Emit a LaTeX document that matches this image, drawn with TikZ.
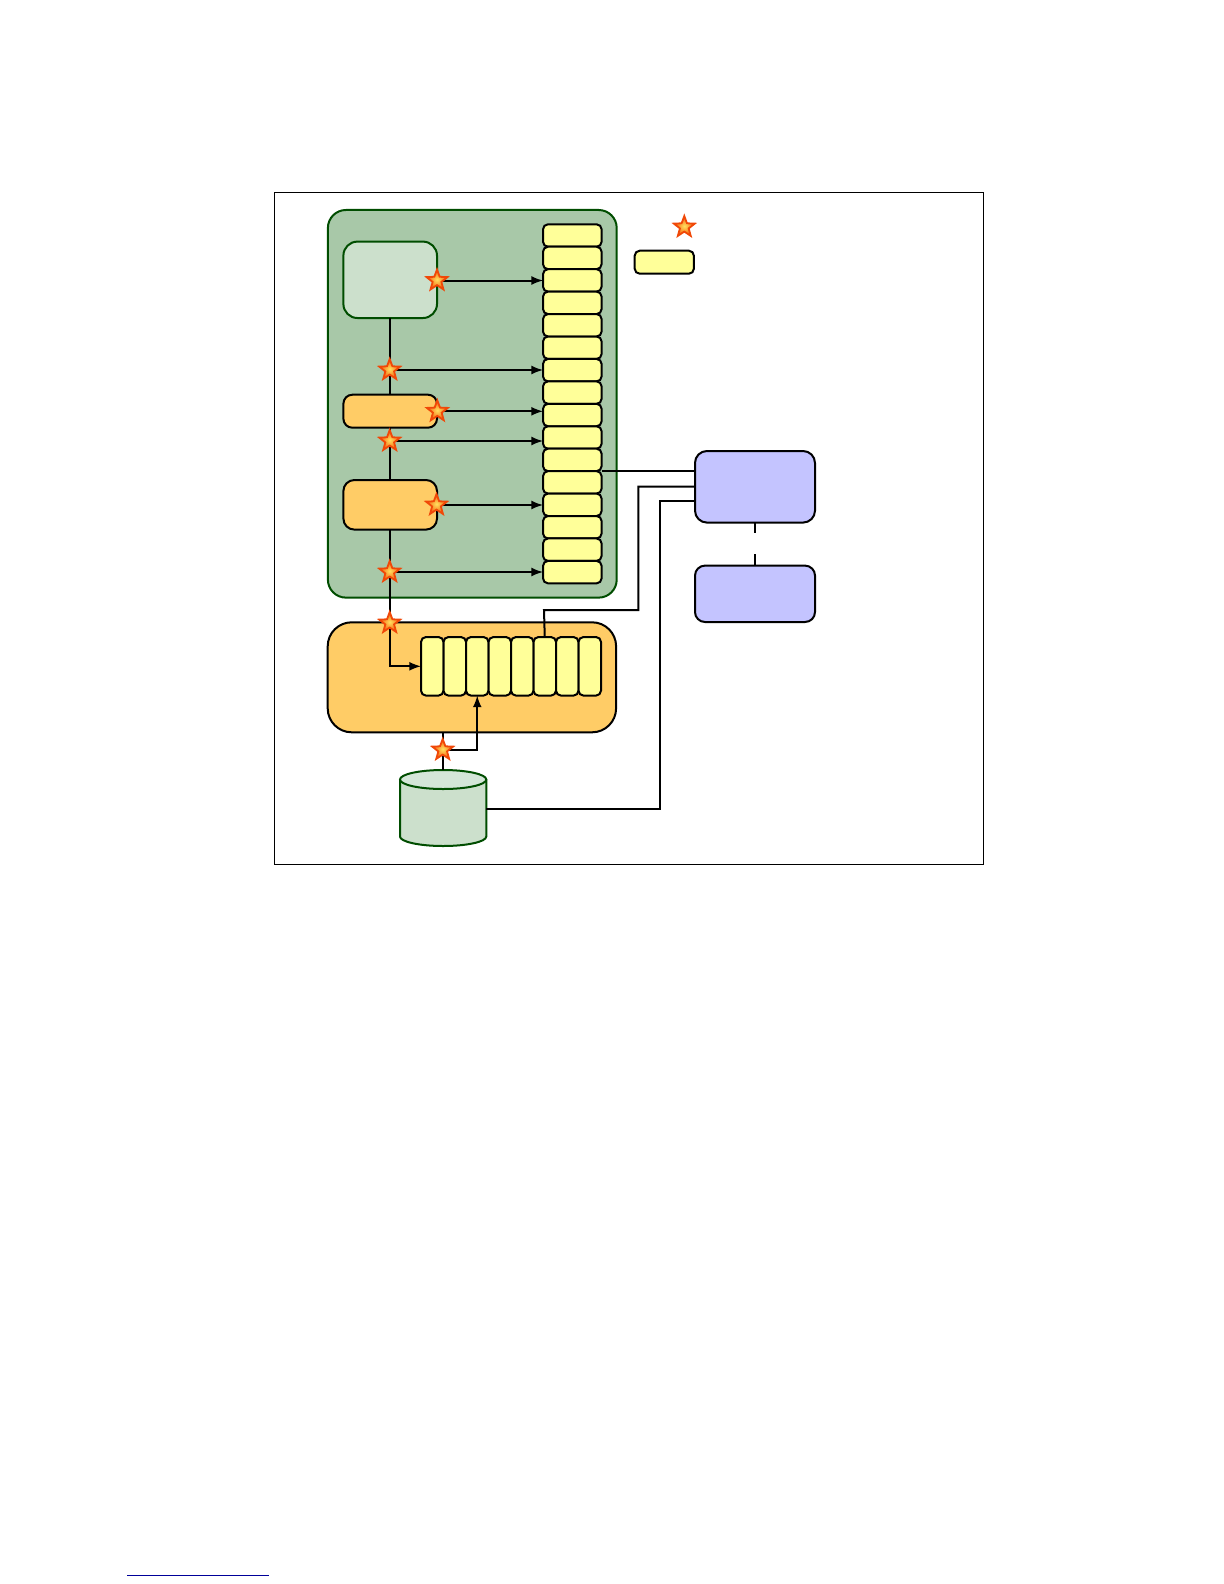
\documentclass[tikz,border=0pt]{standalone}
\usepackage{amsmath, graphicx, tikz}
\usetikzlibrary{shapes.geometric}
\definecolor{boardgreen}{HTML}{A8C8A8}
\definecolor{palegreen}{HTML}{CCE0CC}
\definecolor{paletop}{HTML}{D4E6D8}
\definecolor{darkgreen}{HTML}{004D00}
\definecolor{softorange}{HTML}{FFCC66}
\definecolor{softyellow}{HTML}{FFFF99}
\definecolor{softblue}{HTML}{C4C4FF}
\definecolor{burstred}{HTML}{F04808}
\definecolor{burstcore}{HTML}{FFE060}
\tikzset{
  box/.style={draw, rounded corners=#1, line width=1bp, inner sep=0, outer sep=0},
  box/.default=5bp,
  cell/.style={box=2.5bp, fill=softyellow},
  burst/.style={star, star points=5, star point ratio=2.4, minimum size=11bp, inner sep=0, outer sep=0,
    draw=burstred, line width=0.9bp, inner color=burstcore, outer color=burstred!70!orange},
  wire/.style={line width=1bp},
  link/.style={wire, ->, >=latex}
}
\begin{document}
\begin{tikzpicture}[x=0.5bp, y=-0.5bp]
\useasboundingbox (0, 0) rectangle (1224, 1584);
\draw [line width=0.5bp] (274.3, 192.3) rectangle (983.7, 864);

\node [box=9bp, draw=darkgreen, fill=boardgreen, minimum width=144.4bp, minimum height=193.8bp] (board) at (472.3, 403.8) {};
\node [box=7bp, draw=darkgreen, fill=palegreen, minimum width=46.8bp, minimum height=38.2bp] (upper) at (390.2, 279.8) {};
\node [box=4.5bp, fill=softorange, minimum width=46.8bp, minimum height=16.5bp] (middle) at (390.2, 411.2) {};
\node [box=5.5bp, fill=softorange, minimum width=46.8bp, minimum height=24.8bp] (lower) at (390.2, 504.8) {};
\node [box=12bp, fill=softorange, minimum width=144.2bp, minimum height=55bp] (buffer) at (471.9, 677.3) {};
\node [box=6bp, fill=softblue, minimum width=60bp, minimum height=35.8bp] (hostA) at (755, 486.8) {};
\node [box=5bp, fill=softblue, minimum width=60bp, minimum height=28.2bp] (hostB) at (755, 593.8) {};
\node [cell, minimum width=29.6bp, minimum height=11.5bp] (key) at (664.3, 262.2) {};

\draw [draw=darkgreen, line width=1bp, fill=palegreen] (400, 779.5) -- (400, 836.5) arc [start angle=180, end angle=0, x radius=43.15, y radius=9.5] -- (486.3, 779.5);
\draw [draw=darkgreen, line width=1bp, fill=paletop] (443.15, 779.5) ellipse [x radius=43.15, y radius=9.5];

\foreach \i in {1,...,16}{\node [cell, minimum width=29.3bp, minimum height=11.22bp] (s\i) at (572.3, {224.3 + (\i - 0.5) * 22.44}) {};}
\foreach \i in {1,...,8}{\node [cell, minimum width=11.25bp, minimum height=29.3bp] (r\i) at ({421 + (\i - 0.5) * 22.5}, 666.3) {};}

\coordinate (p1) at (437, 280.5);
\coordinate (p2) at (389.7, 370);
\coordinate (p3) at (437.3, 411.3);
\coordinate (p4) at (389.7, 441);
\coordinate (p5) at (436.5, 505);
\coordinate (p6) at (389.7, 572);
\coordinate (p7) at (389.7, 623);
\coordinate (p8) at (442.7, 750);
\coordinate (diskTop) at (442.7, 770);
\coordinate (diskSide) at (486.3, 808.7);
\coordinate (gapA) at (755, 533.3);
\coordinate (gapB) at (755, 554.3);
\coordinate (pageA) at (127, 1575.3);
\coordinate (pageB) at (269, 1575.3);

\draw [wire] (upper.south) -- (middle.north);
\draw [wire] (middle.south) -- (lower.north);
\draw [link] (lower.south) |- (r1.west);
\draw [link] (p1) -- (s3.west |- p1);
\draw [link] (p2) -- (s7.west |- p2);
\draw [link] (p3) -- (s9.west |- p3);
\draw [link] (p4) -- (s10.west |- p4);
\draw [link] (p5) -- (s13.west |- p5);
\draw [link] (p6) -- (s16.west |- p6);
\draw [wire] (diskTop |- buffer.south) -- (diskTop);
\draw [link] (p8) -| (r3.south);
\draw [wire] (s11.south east) -- (hostA.west |- s11.south east);
\draw [wire] (r6.north) -- (544, 610) -- (638.3, 610) -- (638.3, 486.7) -- (695, 486.7);
\draw [wire] (diskSide) -- (660, 808.7) -- (660, 501) -- (695, 501);
\draw [wire] (hostA.south) -- (gapA);
\draw [wire] (gapB) -- (hostB.north);
\draw [line width=0.6bp, color=blue!60!black] (pageA) -- (pageB);

\foreach \i in {1,...,8}{\node [burst] (b\i) at (p\i) {};}
\node [burst] (bkey) at (684.3, 227) {};
\end{tikzpicture}
\end{document}
